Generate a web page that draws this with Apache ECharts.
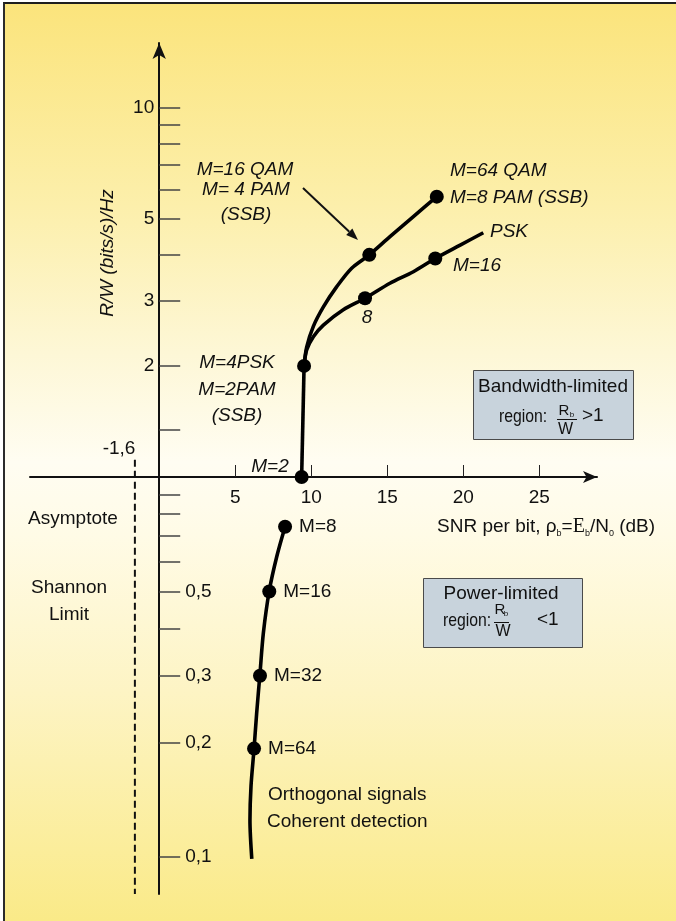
<!DOCTYPE html>
<html>
<head>
<meta charset="utf-8">
<script src="https://cdn.jsdelivr.net/npm/echarts@6/dist/echarts.min.js"></script>
<style>
  html, body { margin: 0; padding: 0; background: #fff; }
  #frame {
    position: absolute; left: 3px; top: 2px; width: 673px; height: 919px;
    box-sizing: border-box;
    border-left: 2px solid #2b2b2b; border-top: 2px solid #1e1e1e;
    background: linear-gradient(to bottom, #fbe47c 0%, #fcefab 22%, #fdf7d6 38%, #fffdf2 50%, #fffbe6 58%, #fdf4c4 75%, #faea88 100%);
  }
  #chart { position: absolute; left: 0; top: 0; width: 676px; height: 921px; }
</style>
</head>
<body>
<div id="frame"></div>
<div id="chart"></div>
<script>
// axis ticks / labels
const xTicks = [5, 10, 15, 20, 25];
const upperTicks = [1.34, 2, 3, 4, 5, 6, 7, 8, 9, 10];
const upperLabels = [2, 3, 5, 10];
const lowerTicks = [0.1, 0.2, 0.3, 0.4, 0.5, 0.6, 0.7, 0.8, 0.9];
const lowerLabels = [0.1, 0.2, 0.3, 0.5];

// M=2 up to M=4PSK / M=2PAM
const stemX = [9.37, 9.53];
const stemY = [1, 2];

// QAM / PAM (SSB)
const qamX = [9.53, 9.70, 10.14, 10.80, 11.68, 12.66, 13.82, 15.18, 16.72, 18.26];
const qamY = [2.0, 2.25, 2.56, 2.89, 3.28, 3.68, 4.0, 4.48, 5.08, 5.75];

// PSK
const pskX = [9.53, 9.70, 10.14, 10.80, 12.11, 13.54, 15.18, 16.72, 18.16, 19.80, 21.32];
const pskY = [2.0, 2.21, 2.40, 2.58, 2.84, 3.05, 3.35, 3.60, 3.91, 4.25, 4.59];

// marked points, bandwidth-limited side (M=2, 4PSK, 16QAM, 64QAM, 8PSK, 16PSK)
const bwDotX = [9.37, 9.53, 13.82, 18.26, 13.54, 18.16];
const bwDotY = [1, 2, 4.0, 5.75, 3.05, 3.91];

// orthogonal signals, coherent detection
const orthX = [8.28, 7.73, 7.24, 6.85, 6.63, 6.41, 6.24, 6.04, 5.97, 6.09];
const orthY = [0.74, 0.617, 0.502, 0.388, 0.304, 0.239, 0.193, 0.154, 0.125, 0.099];
const orthDotX = [8.28, 7.24, 6.63, 6.24];
const orthDotY = [0.74, 0.50, 0.30, 0.193];
const orthDotNames = ["M=8", "M=16", "M=32", "M=64"];

// Shannon limit asymptote
const shannonX = -1.6;
const shannonY = [1.11, 0.08];

const FONT = '"Liberation Sans", Arial, sans-serif';
const INK = "#111";
const pairs = (xs, ys) => xs.map((x, i) => [x, ys[i]]);
const axisText = { color: INK, fontSize: 19, fontFamily: FONT };
const curve = { color: "#000", width: 3.6 };
const dot = { color: "#000", opacity: 1 };

function txt(x, y, s, extra, more) {
    return Object.assign({
        type: "text", x: x, y: y, silent: true, z: 10,
        style: Object.assign({
            text: s, fill: INK, fontSize: 19, fontFamily: FONT,
            align: "center", verticalAlign: "middle"
        }, extra || {})
    }, more || {});
}
const it = { fontStyle: "italic" };
const itL = { fontStyle: "italic", align: "left" };
const narrow = { scaleX: 0.83 };

// arrow pointing at M=16 QAM
const arrowFrom = [303, 188];
const arrowTo = [358, 240];
const adx = arrowTo[0] - arrowFrom[0], ady = arrowTo[1] - arrowFrom[1];
const alen = Math.hypot(adx, ady);
const ux = adx / alen, uy = ady / alen;
const headL = 12, headW = 4.5;
const headBase = [arrowTo[0] - ux * headL, arrowTo[1] - uy * headL];

const graphics = [
    txt(108, 253, "R/W (bits/s)/Hz", it, { rotation: Math.PI / 2 }),
    txt(119, 449, "-1,6"),
    txt(73, 519, "Asymptote"),
    txt(69, 588, "Shannon"),
    txt(69, 615, "Limit"),

    txt(270, 467, "M=2", it),
    txt(237, 363, "M=4PSK", it),
    txt(237, 390, "M=2PAM", it),
    txt(237, 416, "(SSB)", it),

    txt(245, 170, "M=16 QAM", it),
    txt(246, 190, "M= 4 PAM", it),
    txt(246, 215, "(SSB)", it),

    txt(450, 171, "M=64 QAM", itL),
    txt(450, 198, "M=8 PAM (SSB)", itL),
    txt(490, 232, "PSK", itL),
    txt(453, 266, "M=16", itL),
    txt(367, 318, "8", it),

    txt(268, 795, "Orthogonal signals", { align: "left" }),
    txt(267, 822, "Coherent detection", { align: "left" }),

    {
        type: "text", x: 437, y: 527, silent: true, z: 10,
        style: {
            text: "{a|SNR per bit, \u03c1}{s|b}{a|=}{e|E}{s|b}{a|/N}{s|0}{a| (dB)}",
            verticalAlign: "middle", align: "left",
            rich: {
                a: { fontSize: 19, fontFamily: FONT, fill: INK, lineHeight: 22 },
                e: { fontSize: 20, fontFamily: '"Liberation Serif", serif', fill: INK, lineHeight: 22 },
                s: { fontSize: 9, fontFamily: FONT, fill: INK, verticalAlign: "bottom", lineHeight: 12 }
            }
        }
    },

    // arrow
    {
        type: "line", silent: true, z: 10,
        shape: { x1: arrowFrom[0], y1: arrowFrom[1], x2: headBase[0], y2: headBase[1] },
        style: { stroke: INK, lineWidth: 2 }
    },
    {
        type: "polygon", silent: true, z: 10,
        shape: { points: [
            arrowTo,
            [headBase[0] - uy * headW, headBase[1] + ux * headW],
            [headBase[0] + uy * headW, headBase[1] - ux * headW]
        ] },
        style: { fill: INK }
    },

    // bandwidth-limited box
    {
        type: "rect", silent: true, z: 9,
        shape: { x: 473.5, y: 370.5, width: 160, height: 69 },
        style: { fill: "#c8d3dc", stroke: "#4a4a4a", lineWidth: 1 }
    },
    txt(553, 387, "Bandwidth-limited"),
    txt(499, 417, "region:", { align: "left" }, narrow),
    txt(564, 411, "R", { fontSize: 15 }),
    txt(572, 415, "b", { fontSize: 8 }),
    { type: "line", silent: true, z: 10, shape: { x1: 557, y1: 419.5, x2: 577, y2: 419.5 }, style: { stroke: INK, lineWidth: 1 } },
    txt(565.5, 429.5, "W", { fontSize: 16 }),
    txt(582, 416, ">1", { align: "left" }),

    // power-limited box
    {
        type: "rect", silent: true, z: 9,
        shape: { x: 423.5, y: 578.5, width: 159, height: 69 },
        style: { fill: "#c8d3dc", stroke: "#4a4a4a", lineWidth: 1 }
    },
    txt(501, 594, "Power-limited"),
    txt(443, 621, "region:", { align: "left" }, narrow),
    txt(500, 610, "R", { fontSize: 15 }),
    txt(506, 614, "b", { fontSize: 8 }),
    { type: "line", silent: true, z: 10, shape: { x1: 494, y1: 622.5, x2: 509, y2: 622.5 }, style: { stroke: INK, lineWidth: 1 } },
    txt(503, 632, "W", { fontSize: 16 }),
    txt(537, 620, "<1", { align: "left" })
];

const chart = echarts.init(document.getElementById("chart"));

// y tick labels sit beside the axis line at x = 0
const tickLabelSeries = (grid, values, side, gap, fmt) => ({
    type: "scatter", xAxisIndex: grid, yAxisIndex: grid,
    data: values.map((v) => [0, v]),
    symbolSize: 0, clip: false, silent: true,
    itemStyle: { color: INK, opacity: 1 },
    label: Object.assign({
        show: true, position: side, distance: gap,
        formatter: (p) => fmt(p.value[1])
    }, axisText),
    z: 6
});

const option = {
    animation: false,
    textStyle: { fontFamily: FONT },
    grid: [
        { left: 30, right: 79, top: 43, height: 434, containLabel: false, outerBoundsMode: "none" },
        { left: 30, right: 79, top: 477, height: 417, containLabel: false, outerBoundsMode: "none" }
    ],
    xAxis: [
        {
            gridIndex: 0, type: "value", min: -8.5, max: 28.8, position: "bottom",
            axisLine: { onZero: false, symbol: ["none", "arrow"], symbolSize: [9, 14], lineStyle: { color: INK, width: 2 } },
            axisTick: { inside: true, length: 12, customValues: xTicks, lineStyle: { color: "#222", width: 1 } },
            axisLabel: Object.assign({ customValues: xTicks, margin: 11 }, axisText),
            splitLine: { show: false }
        },
        { gridIndex: 1, type: "value", min: -8.5, max: 28.8, show: false, splitLine: { show: false } }
    ],
    yAxis: [
        {
            gridIndex: 0, type: "log", min: 1, max: 15,
            axisLine: { onZero: true, symbol: ["none", "arrow"], symbolSize: [10, 16], lineStyle: { color: INK, width: 2 } },
            axisTick: { inside: true, length: 21, customValues: upperTicks, lineStyle: { color: "#444", width: 1.5 } },
            axisLabel: { show: false },
            splitLine: { show: false },
            minorTick: { show: false }
        },
        {
            gridIndex: 1, type: "log", min: 0.08, max: 1,
            axisLine: { onZero: true, lineStyle: { color: INK, width: 2 } },
            axisTick: { inside: true, length: 21, customValues: lowerTicks, lineStyle: { color: "#444", width: 1.5 } },
            axisLabel: { show: false },
            splitLine: { show: false },
            minorTick: { show: false }
        }
    ],
    series: [
        {
            type: "line", xAxisIndex: 1, yAxisIndex: 1, data: shannonY.map((y) => [shannonX, y]),
            symbol: "none", clip: false, silent: true, z: 1,
            lineStyle: { color: INK, width: 2, type: [7, 4] }
        },
        tickLabelSeries(0, upperLabels, "left", 5, (v) => String(v)),
        tickLabelSeries(1, lowerLabels, "right", 26, (v) => String(v).replace(".", ",")),
        {
            type: "line", xAxisIndex: 0, yAxisIndex: 0, data: pairs(stemX, stemY),
            symbol: "none", silent: true, clip: false, lineStyle: curve, z: 3
        },
        {
            type: "line", xAxisIndex: 0, yAxisIndex: 0, data: pairs(qamX, qamY),
            smooth: 0.3, symbol: "none", silent: true, lineStyle: curve, z: 3
        },
        {
            type: "line", xAxisIndex: 0, yAxisIndex: 0, data: pairs(pskX, pskY),
            smooth: 0.3, symbol: "none", silent: true, lineStyle: curve, z: 3
        },
        {
            type: "scatter", xAxisIndex: 0, yAxisIndex: 0, data: pairs(bwDotX, bwDotY),
            symbolSize: 14, clip: false, silent: true, itemStyle: dot, z: 5
        },
        {
            type: "line", xAxisIndex: 1, yAxisIndex: 1, data: pairs(orthX, orthY),
            smooth: 0.3, symbol: "none", silent: true, lineStyle: curve, z: 3
        },
        {
            type: "scatter", xAxisIndex: 1, yAxisIndex: 1,
            data: orthDotX.map((x, i) => ({ value: [x, orthDotY[i]], name: orthDotNames[i] })),
            symbolSize: 14, clip: false, silent: true, itemStyle: dot, z: 5,
            label: {
                show: true, position: "right", distance: 7, formatter: "{b}",
                color: INK, fontSize: 19, fontFamily: FONT
            }
        }
    ],
    graphic: graphics
};

chart.setOption(option);
window.addEventListener("resize", () => chart.resize());
</script>
</body>
</html>
